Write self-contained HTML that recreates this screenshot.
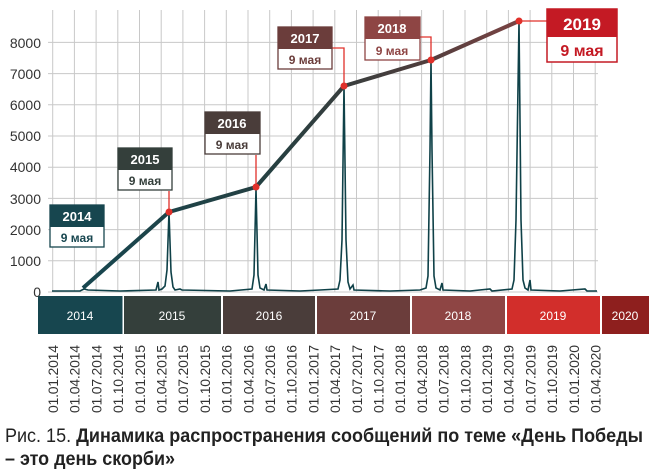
<!DOCTYPE html>
<html><head><meta charset="utf-8"><style>
html,body{margin:0;padding:0;background:#fff;}
svg{display:block;font-family:"Liberation Sans","DejaVu Sans",sans-serif;}
</style></head><body>
<svg width="649" height="470" viewBox="0 0 649 470" xmlns="http://www.w3.org/2000/svg">
<defs>
<linearGradient id="lg" x1="83" y1="0" x2="519" y2="0" gradientUnits="userSpaceOnUse">
<stop offset="0" stop-color="#17464f"/><stop offset="0.45" stop-color="#263f40"/><stop offset="0.75" stop-color="#4a3d3c"/><stop offset="1" stop-color="#7a4343"/>
</linearGradient>
</defs>
<g stroke="#c8c8c8" stroke-width="1">
<line x1="48" y1="292" x2="598" y2="292"/>
<line x1="48" y1="260.8" x2="598" y2="260.8"/>
<line x1="48" y1="229.6" x2="598" y2="229.6"/>
<line x1="48" y1="198.4" x2="598" y2="198.4"/>
<line x1="48" y1="167.2" x2="598" y2="167.2"/>
<line x1="48" y1="136" x2="598" y2="136"/>
<line x1="48" y1="104.8" x2="598" y2="104.8"/>
<line x1="48" y1="73.6" x2="598" y2="73.6"/>
<line x1="48" y1="42.4" x2="598" y2="42.4"/>
</g>
<g stroke="#c8c8c8" stroke-width="1" id="vg"></g>
<g font-size="14" fill="#333" text-anchor="end">
<text x="41" y="297">0</text>
<text x="41" y="266">1000</text>
<text x="41" y="235">2000</text>
<text x="41" y="204">3000</text>
<text x="41" y="172">4000</text>
<text x="41" y="141">5000</text>
<text x="41" y="110">6000</text>
<text x="41" y="79">7000</text>
<text x="41" y="48">8000</text>
</g>
<polyline fill="none" stroke="#0f4148" stroke-width="1.6" points="52,291 80,291 84,289 88,290 120,291 156,290 158,282 159,290 162,289 165,286 167,270 169,212 171,272 173,287 175,290 180,289 182,290 230,291 252,289 254,275 256,189 258,275 260,288 264,290 266,284 267,290 300,291 320,290 338,289 340,280 342,240 344,86 346,240 348,282 350,289 353,285 354,290 390,291 420,290 426,288 428,276 430,150 431,60 432,150 434,276 436,288 440,290 442,283 443,290 470,291 490,289 492,291 512,289 514,280 516,220 519,21 521,220 523,280 525,288 528,290 530,280 531,290 560,291 585,289 587,291 597,291"/>
<polyline fill="none" stroke="url(#lg)" stroke-width="4" stroke-linejoin="round" points="83,288 169,212 256,187 344,86 431,60 519,21"/>
<g stroke="#e0302a" stroke-width="1.3" fill="none">
<line x1="169" y1="191" x2="169" y2="212"/>
<line x1="256" y1="155" x2="256" y2="187"/>
<polyline points="332,48 344,48 344,86"/>
<polyline points="420,37 431,37 431,60"/>
<line x1="519" y1="21" x2="547" y2="21"/>
</g>
<g fill="#e0302a">
<circle cx="169" cy="212" r="3.5"/><circle cx="256" cy="187" r="3.5"/><circle cx="344" cy="86" r="3.5"/><circle cx="431" cy="60" r="3.5"/><circle cx="519" cy="21" r="3.5"/>
</g>
<g font-weight="bold" text-anchor="middle" font-size="13">
<rect x="50" y="205" width="54" height="42" fill="#fff" stroke="#17464f" stroke-width="1.3"/><rect x="50" y="205" width="54" height="22" fill="#17464f"/>
<text x="77" y="221" fill="#fff">2014</text><text x="77" y="242" fill="#17464f" font-size="12">9 мая</text>
<rect x="118" y="148" width="54" height="42" fill="#fff" stroke="#343f3b" stroke-width="1.3"/><rect x="118" y="148" width="54" height="22" fill="#343f3b"/>
<text x="145" y="164" fill="#fff">2015</text><text x="145" y="185" fill="#343f3b" font-size="12">9 мая</text>
<rect x="205" y="112" width="55" height="42" fill="#fff" stroke="#4a3d3a" stroke-width="1.3"/><rect x="205" y="112" width="55" height="22" fill="#4a3d3a"/>
<text x="232" y="128" fill="#fff">2016</text><text x="232" y="149" fill="#4a3d3a" font-size="12">9 мая</text>
<rect x="278" y="27" width="54" height="42" fill="#fff" stroke="#6b3d3b" stroke-width="1.3"/><rect x="278" y="27" width="54" height="22" fill="#6b3d3b"/>
<text x="305" y="43" fill="#fff">2017</text><text x="305" y="64" fill="#6b3d3b" font-size="12">9 мая</text>
<rect x="365" y="17" width="55" height="43" fill="#fff" stroke="#8e4544" stroke-width="1.3"/><rect x="365" y="17" width="55" height="22" fill="#8e4544"/>
<text x="392" y="33" fill="#fff">2018</text><text x="392" y="55" fill="#8e4544" font-size="12">9 мая</text>
<rect x="547" y="9" width="70" height="53" fill="#fff" stroke="#c41a24" stroke-width="1.5"/><rect x="547" y="9" width="70" height="28" fill="#c41a24"/>
<text x="582" y="30" fill="#fff" font-size="17">2019</text><text x="582" y="56" fill="#c41a24" font-size="16">9 мая</text>
</g>
<g>
<rect x="38" y="296" width="84.5" height="38" fill="#17464f"/>
<rect x="124" y="296" width="97" height="38" fill="#343f3b"/>
<rect x="223" y="296" width="92" height="38" fill="#4a3d3a"/>
<rect x="317" y="296" width="93" height="38" fill="#6b3d3b"/>
<rect x="412" y="296" width="93" height="38" fill="#8e4544"/>
<rect x="507" y="296" width="93" height="38" fill="#d22e2b"/>
<rect x="602" y="296" width="47" height="38" fill="#8e1f1e"/>
</g>
<g fill="#fff" font-size="12" text-anchor="middle">
<text x="80" y="320">2014</text><text x="172" y="320">2015</text><text x="269" y="320">2016</text><text x="363" y="320">2017</text><text x="458" y="320">2018</text><text x="553" y="320">2019</text><text x="625" y="320">2020</text>
</g>
<g font-size="14" fill="#333" id="dl"></g>
<text x="5" y="442" font-size="19" fill="#222" textLength="638" lengthAdjust="spacingAndGlyphs">Рис. 15. <tspan font-weight="bold">Динамика распространения сообщений по теме «День Победы</tspan></text>
<text x="5" y="465" font-size="19" fill="#222" font-weight="bold" textLength="170" lengthAdjust="spacingAndGlyphs">– это день скорби»</text>
<script>
var ns="http://www.w3.org/2000/svg",vg=document.getElementById('vg'),dl=document.getElementById('dl');
for(var i=0;i<26;i++){var x=52.7+i*21.7;var l=document.createElementNS(ns,'line');l.setAttribute('x1',x);l.setAttribute('x2',x);l.setAttribute('y1',10);l.setAttribute('y2',292);vg.appendChild(l);}
var m=['01','04','07','10'];
for(var i=0;i<26;i++){var y=2014+Math.floor(i/4);var s='01.'+m[i%4]+'.'+y;var x=53+i*21.7+5;var t=document.createElementNS(ns,'text');t.setAttribute('transform','translate('+x+',413) rotate(-90)');t.setAttribute('textLength','68');t.textContent=s;dl.appendChild(t);}
</script>
</svg>
</body></html>
